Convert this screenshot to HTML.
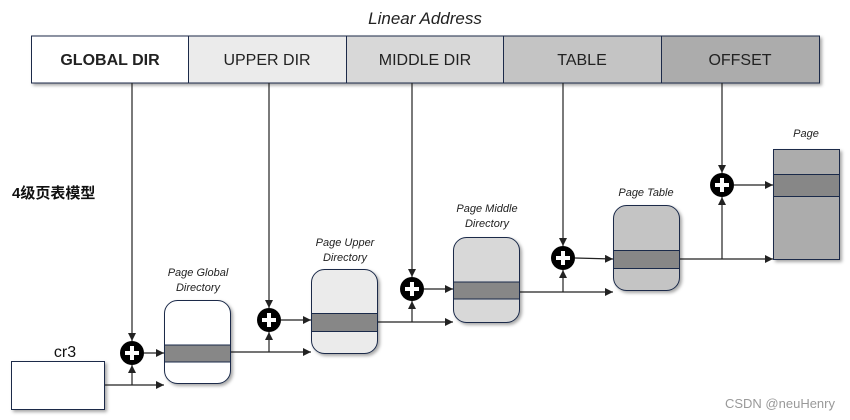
<!DOCTYPE html>
<html><head><meta charset="utf-8"><style>
html,body{margin:0;padding:0;background:#fff;}
svg{display:block;font-family:"Liberation Sans","Noto Sans CJK SC",sans-serif;}
</style></head><body>
<svg width="850" height="420" viewBox="0 0 850 420" xmlns="http://www.w3.org/2000/svg">
<defs>
<marker id="a" markerWidth="8" markerHeight="8" refX="8" refY="4" orient="auto" markerUnits="userSpaceOnUse"><path d="M0,0 L8,4 L0,8 z" fill="#222"/></marker>
<filter id="s" x="-10%" y="-10%" width="130%" height="130%"><feDropShadow dx="2" dy="2" stdDeviation="1.5" flood-color="#000" flood-opacity="0.35"/></filter>
</defs>
<text x="425" y="24" font-size="17" font-style="italic" text-anchor="middle" fill="#222">Linear Address</text>
<g filter="url(#s)" stroke="#1a2a4a" stroke-width="1">
<rect x="31.5" y="36" width="157" height="47" fill="#fff"/>
<rect x="188.5" y="36" width="158" height="47" fill="#ebebeb"/>
<rect x="346.5" y="36" width="157" height="47" fill="#d8d8d8"/>
<rect x="503.5" y="36" width="158" height="47" fill="#c4c4c4"/>
<rect x="661.5" y="36" width="158" height="47" fill="#acacac"/>
</g>
<g font-size="16" text-anchor="middle" fill="#222">
<text x="110" y="65" font-weight="bold">GLOBAL DIR</text>
<text x="267" y="65">UPPER DIR</text>
<text x="425" y="65">MIDDLE DIR</text>
<text x="582" y="65">TABLE</text>
<text x="740" y="65">OFFSET</text>
</g>
<text x="12" y="198" font-size="15" font-weight="bold" fill="#111">4级页表模型</text>
<text x="65" y="357" font-size="16" text-anchor="middle" fill="#111">cr3</text>
<rect x="11.5" y="361.5" width="93" height="48" fill="#fff" stroke="#1a2a4a" filter="url(#s)"/>
<g stroke="#222" stroke-width="1.2" fill="none">
<line x1="132" y1="83" x2="132" y2="341" marker-end="url(#a)"/>
<line x1="269" y1="83" x2="269" y2="308" marker-end="url(#a)"/>
<line x1="412" y1="83" x2="412" y2="277" marker-end="url(#a)"/>
<line x1="563" y1="83" x2="563" y2="246" marker-end="url(#a)"/>
<line x1="722" y1="83" x2="722" y2="173" marker-end="url(#a)"/>
<line x1="105" y1="385" x2="164" y2="385" marker-end="url(#a)"/>
<line x1="132" y1="385" x2="132" y2="365" marker-end="url(#a)"/>
<line x1="144" y1="353" x2="164" y2="353" marker-end="url(#a)"/>
<line x1="231" y1="352" x2="311" y2="352" marker-end="url(#a)"/>
<line x1="269" y1="352" x2="269" y2="332" marker-end="url(#a)"/>
<line x1="281" y1="320" x2="311" y2="320" marker-end="url(#a)"/>
<line x1="378" y1="322" x2="453" y2="322" marker-end="url(#a)"/>
<line x1="412" y1="322" x2="412" y2="301" marker-end="url(#a)"/>
<line x1="424" y1="289" x2="453" y2="289" marker-end="url(#a)"/>
<line x1="519" y1="292" x2="613" y2="292" marker-end="url(#a)"/>
<line x1="563" y1="292" x2="563" y2="270" marker-end="url(#a)"/>
<line x1="575" y1="258" x2="613" y2="259" marker-end="url(#a)"/>
<line x1="679" y1="259" x2="773" y2="259" marker-end="url(#a)"/>
<line x1="722" y1="259" x2="722" y2="197" marker-end="url(#a)"/>
<line x1="734" y1="185" x2="773" y2="185" marker-end="url(#a)"/>
</g>
<g stroke="#1a2a4a" stroke-width="1" filter="url(#s)">
<rect x="164.5" y="300.5" width="66" height="83" rx="13" fill="#fff"/>
<rect x="311.5" y="269.5" width="66" height="84" rx="13" fill="#ebebeb"/>
<rect x="453.5" y="237.5" width="66" height="85" rx="13" fill="#d8d8d8"/>
<rect x="613.5" y="205.5" width="66" height="85" rx="13" fill="#c4c4c4"/>
<rect x="773.5" y="149.5" width="66" height="110" fill="#acacac"/>
</g>
<g stroke="#1a2a4a" stroke-width="1" fill="#878787">
<rect x="164.5" y="345" width="66" height="17"/>
<rect x="311.5" y="313.5" width="66" height="18"/>
<rect x="453.5" y="282" width="66" height="17"/>
<rect x="613.5" y="250.5" width="66" height="18"/>
<rect x="773.5" y="174.5" width="66" height="22"/>
</g>
<g>
<circle cx="132" cy="353" r="12" fill="#000"/>
<circle cx="269" cy="320" r="12" fill="#000"/>
<circle cx="412" cy="289" r="12" fill="#000"/>
<circle cx="563" cy="258" r="12" fill="#000"/>
<circle cx="722" cy="185" r="12" fill="#000"/>
</g>
<g stroke="#fff" stroke-width="4">
<path d="M125,353h14M132,346v14"/>
<path d="M262,320h14M269,313v14"/>
<path d="M405,289h14M412,282v14"/>
<path d="M556,258h14M563,251v14"/>
<path d="M715,185h14M722,178v14"/>
</g>
<g font-size="11" font-style="italic" text-anchor="middle" fill="#222">
<text x="198" y="276">Page Global</text>
<text x="198" y="291">Directory</text>
<text x="345" y="246">Page Upper</text>
<text x="345" y="261">Directory</text>
<text x="487" y="212">Page Middle</text>
<text x="487" y="227">Directory</text>
<text x="646" y="196">Page Table</text>
<text x="806" y="137">Page</text>
</g>
<text x="835" y="408" font-size="13" text-anchor="end" fill="#999">CSDN @neuHenry</text>
</svg>
</body></html>
